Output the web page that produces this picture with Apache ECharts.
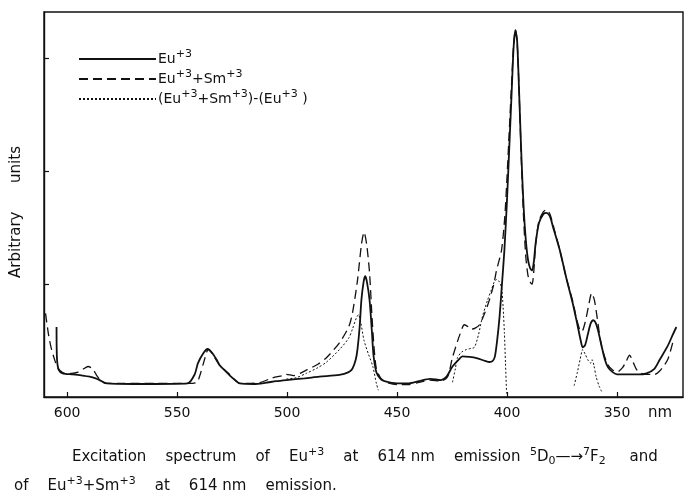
<!DOCTYPE html>
<html><head><meta charset="utf-8">
<script src="https://cdn.jsdelivr.net/npm/echarts@6/dist/echarts.min.js"></script>
<style>html,body{margin:0;padding:0;background:#fff}#c{width:700px;height:500px}</style>
</head><body><div id="c"></div>
<script>
// wavelength (nm), relative intensity
const eu = [[604.8,0.62],[604.6,0.34],[603.8,0.24],[602,0.21],[597.5,0.2],[593,0.19],[589.7,0.18],[587,0.165],[585.2,0.15],[582,0.12],[570,0.115],[560,0.115],[545.2,0.12],[542,0.2],[540.5,0.3],[538,0.39],[536.1,0.425],[534,0.39],[532,0.33],[530.6,0.28],[528,0.23],[526,0.19],[523,0.14],[521.5,0.12],[515,0.115],[510,0.125],[505,0.14],[500.3,0.15],[492,0.165],[485.3,0.18],[476.2,0.195],[472,0.22],[470.3,0.25],[468.8,0.33],[468,0.42],[467,0.62],[466.2,0.86],[465.2,1.02],[464.5,1.07],[463.8,1.03],[462.5,0.86],[461.5,0.6],[460.7,0.37],[459.4,0.22],[457.5,0.16],[455.7,0.14],[450,0.12],[445,0.12],[440,0.14],[435,0.16],[430,0.15],[427.5,0.18],[424.8,0.27],[422,0.33],[420.3,0.36],[417,0.355],[413.9,0.345],[410,0.32],[408,0.31],[406.5,0.32],[405.5,0.36],[404.5,0.5],[403.4,0.71],[402.3,1.0],[401.2,1.3],[400,1.75],[399,2.2],[398,2.65],[397,3.1],[396.2,3.25],[395.4,3.15],[394.5,2.7],[393.5,2.15],[392.5,1.7],[391.5,1.4],[390.5,1.22],[389.5,1.14],[388.6,1.12],[387.8,1.2],[387,1.36],[385.5,1.54],[383.5,1.62],[382,1.63],[380.5,1.6],[379,1.5],[376,1.3],[373,1.05],[370,0.82],[368,0.64],[366.5,0.5],[365.6,0.44],[364.5,0.46],[363.2,0.56],[362,0.65],[360.8,0.68],[359.8,0.66],[358.5,0.58],[357,0.45],[355.5,0.33],[354,0.26],[352,0.22],[350,0.2],[345,0.2],[340,0.2],[336.6,0.21],[333,0.25],[330.6,0.33],[327,0.45],[324.7,0.55],[323,0.62]];

const euSm = [[609.8,0.74],[608.5,0.56],[607.3,0.44],[605.5,0.32],[604,0.25],[601,0.21],[598,0.21],[595,0.22],[592.5,0.25],[590.5,0.27],[588.4,0.25],[586.5,0.19],[584.5,0.14],[582,0.12],[575,0.12],[560,0.12],[545,0.12],[541,0.13],[539.5,0.2],[538,0.3],[536.3,0.41],[535.8,0.42],[533,0.35],[530.6,0.28],[526,0.2],[521.5,0.12],[518,0.12],[512,0.13],[506.6,0.17],[502,0.19],[500.3,0.2],[497,0.19],[494,0.21],[491,0.24],[486,0.29],[482,0.35],[476.2,0.48],[472,0.62],[470.3,0.74],[468,1.03],[466.2,1.35],[465,1.46],[463.8,1.35],[462.5,1.1],[461.5,0.75],[460.5,0.45],[459.4,0.25],[457.5,0.17],[455,0.13],[450,0.11],[445,0.11],[440,0.13],[435,0.15],[430,0.14],[427,0.18],[424.8,0.35],[421.5,0.55],[419.4,0.64],[417.5,0.62],[416.2,0.6],[414.5,0.61],[412.5,0.64],[410,0.75],[408,0.86],[406,1.0],[404.8,1.12],[402.5,1.3],[401,1.6],[400,1.95],[399,2.35],[398,2.75],[397,3.12],[396.2,3.25],[395.4,3.15],[394.5,2.7],[393.5,2.1],[392.5,1.6],[391.5,1.25],[390.5,1.08],[389.5,1.02],[388.6,1.0],[387.8,1.12],[387,1.35],[385.5,1.56],[383.5,1.64],[382,1.66],[380.5,1.62],[379,1.52],[376,1.3],[373,1.05],[370,0.84],[368.5,0.7],[367,0.6],[366,0.58],[364.5,0.66],[363,0.8],[361.5,0.92],[360.3,0.86],[359,0.7],[357.5,0.5],[356,0.38],[354,0.28],[352,0.24],[350,0.22],[347.5,0.26],[346,0.31],[344.3,0.37],[342.5,0.3],[341,0.24],[339,0.21],[336.6,0.2],[333,0.2],[330.6,0.23],[327,0.33],[324.7,0.48]];

const diff465 = [[500.3,0.16],[496,0.17],[491.2,0.21],[486,0.26],[482,0.31],[476.2,0.42],[472,0.52],[470.3,0.6],[468.5,0.7],[467.5,0.73],[466.5,0.66],[465,0.5],[463,0.38],[461,0.27],[459.4,0.12],[458.5,0.06]];
const diff405 = [[424.8,0.13],[423.5,0.25],[422.5,0.35],[420.5,0.4],[418.5,0.42],[416.5,0.43],[414.8,0.44],[413,0.55],[411.2,0.71],[409,0.85],[407.1,0.95],[405.8,1.02],[404.8,1.04],[403.8,1.03],[402.5,0.97],[401.8,0.8],[401.2,0.57],[400.7,0.3],[400.2,0.03]];
const diff365 = [[369.5,0.1],[368,0.22],[366.8,0.33],[365.6,0.42],[364.5,0.38],[363,0.32],[362,0.3],[361.3,0.33],[360.5,0.28],[359.5,0.18],[358.2,0.1],[357,0.05]];

const xTicks = [600,550,500,450,400,350];
const yTicks = [1,2,3];
const names = ['Eu+3','Eu+3+Sm+3','(Eu+3+Sm+3)-(Eu+3)'];
const legendRich = {
  'Eu+3':'Eu{s|+3}',
  'Eu+3+Sm+3':'Eu{s|+3}+Sm{s|+3}',
  '(Eu+3+Sm+3)-(Eu+3)':'(Eu{s|+3}+Sm{s|+3})-(Eu{s|+3} )'
};
const captionLines = [
  'Excitation    spectrum    of    Eu{s|+3}    at    614 nm    emission  {s|5}D{b|0}\u2014\u2192{s|7}F{b|2}     and',
  'of    Eu{s|+3}+Sm{s|+3}    at    614 nm    emission.'
];

const FONT = 'DejaVu Sans';
const INK = '#111';
const chart = echarts.init(document.getElementById('c'), null, {renderer:'canvas'});
const dotted = {type:[2,2], width:1, color:INK};
const supStyle = {fontSize:11,verticalAlign:'top',padding:[0,0,9,0],fontFamily:FONT,color:INK};
const subStyle = {fontSize:11,verticalAlign:'bottom',padding:[9,0,0,0],fontFamily:FONT,color:INK};

chart.setOption({
  animation:false,
  backgroundColor:'#fff',
  color:[INK,INK,INK,INK,INK],
  grid:{left:44,right:17,top:12,bottom:103,show:true,borderColor:INK,borderWidth:1.4,backgroundColor:'transparent'},
  legend:{
    data:names, orient:'vertical', left:78, top:49, padding:0,
    itemWidth:77, itemHeight:14, itemGap:3,
    itemStyle:{opacity:0},
    textStyle:{fontFamily:FONT,fontSize:14,color:INK,padding:[0,0,0,-3],rich:{s:supStyle}},
    formatter:n=>legendRich[n]
  },
  xAxis:{type:'value',inverse:true,min:320,max:610.5,
    axisLine:{show:true,lineStyle:{color:INK,width:1.4}},
    axisTick:{show:true,inside:true,length:5,customValues:xTicks,lineStyle:{color:INK,width:1.2}},
    axisLabel:{customValues:xTicks,margin:9,fontFamily:FONT,fontSize:14,color:INK},
    splitLine:{show:false}},
  yAxis:{type:'value',min:0,max:3.41,
    axisLine:{show:true,lineStyle:{color:INK,width:1.4}},
    axisTick:{show:true,inside:true,length:5,customValues:yTicks,lineStyle:{color:INK,width:1.2}},
    axisLabel:{show:false},splitLine:{show:false}},
  series:[
    {name:names[0],type:'line',data:eu,symbol:'none',smooth:0.25,itemStyle:{color:INK},lineStyle:{color:INK,width:1.8,type:'solid'}},
    {name:names[1],type:'line',data:euSm,symbol:'none',smooth:0.25,itemStyle:{color:INK},lineStyle:{color:INK,width:1.3,type:[9,5]}},
    {name:names[2],type:'line',data:diff465,symbol:'none',smooth:0.25,itemStyle:{color:INK},lineStyle:dotted},
    {name:names[2],type:'line',data:diff405,symbol:'none',smooth:0.25,itemStyle:{color:INK},lineStyle:dotted},
    {name:names[2],type:'line',data:diff365,symbol:'none',smooth:0.25,itemStyle:{color:INK},lineStyle:dotted}
  ],
  graphic:[
    {type:'text',x:16,y:212,rotation:Math.PI/2,style:{text:'Arbitrary      units',fontFamily:FONT,fontSize:15,fill:INK,align:'center',verticalAlign:'middle'}},
    {type:'text',x:648,y:413,style:{text:'nm',fontFamily:FONT,fontSize:15,fill:INK,verticalAlign:'middle'}},
    {type:'text',x:72,y:457,style:{text:captionLines[0],fontFamily:FONT,fontSize:15,fill:INK,verticalAlign:'middle',rich:{s:supStyle,b:subStyle}}},
    {type:'text',x:14,y:486,style:{text:captionLines[1],fontFamily:FONT,fontSize:15,fill:INK,verticalAlign:'middle',rich:{s:supStyle,b:subStyle}}}
  ]
});
</script></body></html>
